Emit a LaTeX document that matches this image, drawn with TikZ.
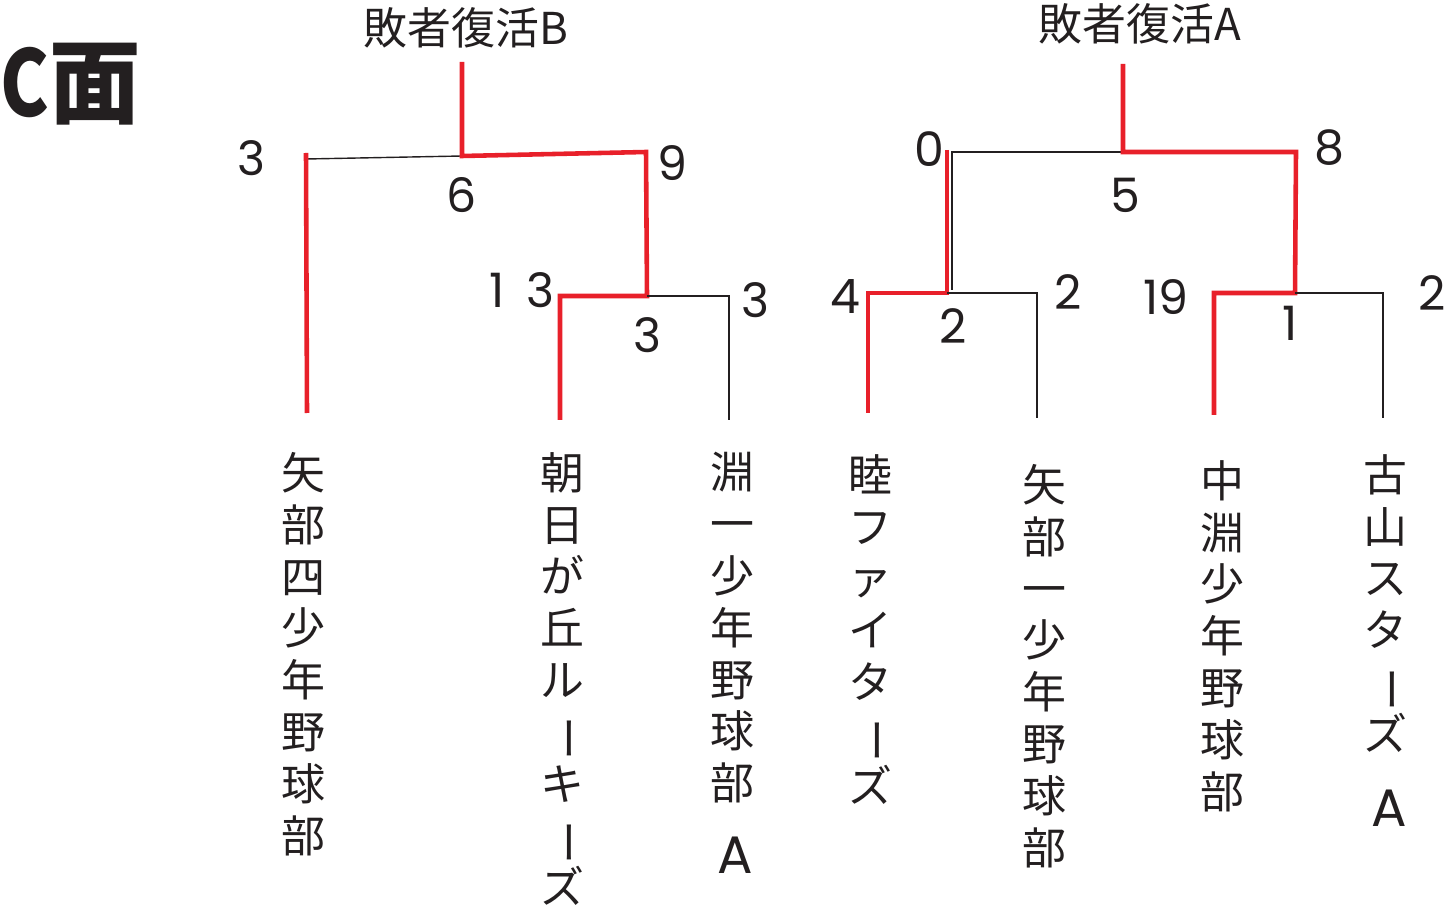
\documentclass[tikz,border=0pt]{standalone}
\usepackage{fontspec}
\usepackage{graphicx}
\newfontfamily\jp{Noto Sans CJK JP}
\newfontfamily\num{Poppins}
\definecolor{tred}{HTML}{E8202A}
\definecolor{tdark}{HTML}{231F20}
% long vowel mark for vertical text
\newcommand\tbar{\rotatebox[origin=c]{-90}{ー}}

\begin{document}
\begin{tikzpicture}[x=0.02cm,y=-0.02cm,
    win/.style={draw=tred,line width=2.6pt},
    lose/.style={draw=tdark,line width=0.8pt},
    score/.style={font=\num\fontsize{27}{27}\selectfont,text=tdark,inner sep=0pt},
    team/.style={anchor=north,align=center,inner sep=0pt,
      font=\jp\fontsize{25}{29.5}\selectfont,text=tdark},
    letter/.style={font=\num\fontsize{30}{30}\selectfont,text=tdark,inner sep=0pt},
    title/.style={font=\jp\fontsize{25}{25}\selectfont,text=tdark,inner sep=0pt}]
  \useasboundingbox (0,0) rectangle (1447,905);

  \node[font=\jp\bfseries\fontsize{52}{52}\selectfont,text=tdark,inner sep=0pt,anchor=west]
    (face) at (0,84) {\scalebox{0.8}[1]{C}面};
  \node[title] (titleB) at (466,28) {敗者復活B};
  \node[title] (titleA) at (1140,24) {敗者復活A};

  % teams
  \node[team] (yabe4) at (303,452) {矢\\部\\四\\少\\年\\野\\球\\部};
  \node[team] (asahi) at (562,452) {朝\\日\\が\\丘\\ル\\\tbar\\キ\\\tbar\\ズ};
  \node[team] (fuchi1) at (732,452) {淵\\一\\少\\年\\野\\球\\部};
  \node[letter] (fuchi1A) at (735,855) {A};
  \node[team] (mutsu) at (870,454) {睦\\フ\\ァ\\イ\\タ\\\tbar\\ズ};
  \node[team] (yabe1) at (1044,464) {矢\\部\\一\\少\\年\\野\\球\\部};
  \node[team] (nakab) at (1222,460) {中\\淵\\少\\年\\野\\球\\部};
  \node[team] (furu) at (1385,454) {古\\山\\ス\\タ\\\tbar\\ズ};
  \node[letter] (furuA) at (1389,808) {A};

  % bracket B
  \coordinate (bTop) at (462,62);
  \coordinate (bMid) at (462,156);
  \coordinate (bL) at (306,159);
  \coordinate (bLend) at (307,413);
  \coordinate (bR) at (646,152);
  \coordinate (bM) at (647,296);
  \coordinate (bML) at (560,296);
  \coordinate (bMLend) at (560,420);
  \coordinate (bMR) at (729,296);
  \coordinate (bMRend) at (729,420);
  \draw[lose] (bL) -- (bMid);
  \draw[win] (306,153) -- (bLend);
  \draw[win] (bTop) -- (bMid) -- (bR) -- (bM) -- (bML) -- (bMLend);
  \draw[lose] (bM) -- (bMR) -- (bMRend);

  % bracket A
  \coordinate (aTop) at (1123,64);
  \coordinate (aMid) at (1123,152);
  \coordinate (aL) at (952,152);
  \coordinate (aLend) at (952,290);
  \coordinate (aR) at (1296,152);
  \coordinate (aRM) at (1295,293);
  \coordinate (aLM) at (947,293);
  \coordinate (aLL) at (868,293);
  \coordinate (aLLend) at (868,413);
  \coordinate (aLR) at (1037,293);
  \coordinate (aLRend) at (1037,418);
  \coordinate (aRL) at (1214,293);
  \coordinate (aRLend) at (1214,415);
  \coordinate (aRR) at (1383,293);
  \coordinate (aRRend) at (1383,418);
  \draw[lose] (aMid) -- (aL) -- (aLend);
  \draw[win] (947,150) -- (aLM) -- (aLL) -- (aLLend);
  \draw[lose] (aLM) -- (aLR) -- (aLRend);
  \draw[win] (aTop) -- (aMid) -- (aR) -- (aRM) -- (aRL) -- (aRLend);
  \draw[lose] (aRM) -- (aRR) -- (aRRend);

  % scores
  \node[score] (sB1) at (251,158) {3};
  \node[score] (sB2) at (462,195) {6};
  \node[score] (sB3) at (672,163) {9};
  \node[score] (sB4) at (522,290) {1\hspace{0.45em}3};
  \node[score] (sB5) at (647,335) {3};
  \node[score] (sB6) at (755,300) {3};
  \node[score] (sA1) at (929,149) {0};
  \node[score] (sA2) at (1125,195) {5};
  \node[score] (sA3) at (1329,148) {8};
  \node[score] (sA4) at (845,297) {4};
  \node[score] (sA5) at (953,326) {2};
  \node[score] (sA6) at (1068,292) {2};
  \node[score] (sA7) at (1166,297) {19};
  \node[score] (sA8) at (1290,323) {1};
  \node[score] (sA9) at (1432,293) {2};
\end{tikzpicture}
\end{document}
